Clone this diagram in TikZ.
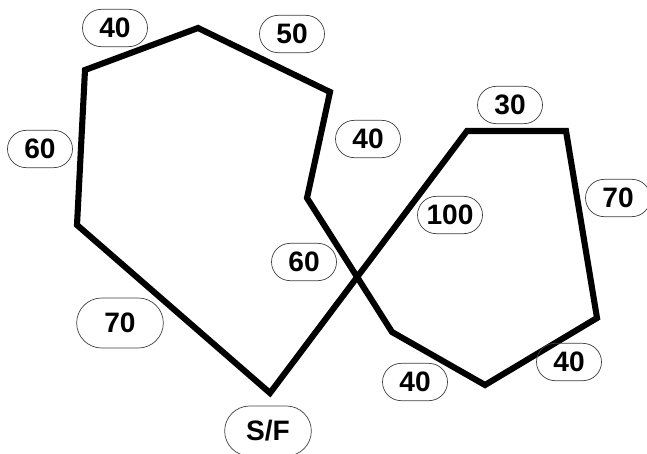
\documentclass[tikz,border=0pt]{standalone}
\usepackage{fontspec}
\setmainfont{Liberation Sans}
\usetikzlibrary{shapes.misc}

\begin{document}
\begin{tikzpicture}[x=0.03cm, y=-0.03cm,
    track/.style={line width=5.2pt, line join=miter},
    dist/.style={draw=black!75, line width=0.6pt, rounded rectangle, inner sep=0pt,
      minimum width=1.95cm, minimum height=1.12cm, font=\fontsize{24}{26}\selectfont\bfseries},
    bigdist/.style={dist, minimum width=2.6cm, minimum height=1.5cm}]
    \useasboundingbox (0,0) rectangle (647,454);
    % corners of the route
    \coordinate (sf) at (270,393);
    \coordinate (p1) at (77,225);
    \coordinate (p2) at (85,70);
    \coordinate (p3) at (198,28);
    \coordinate (p4) at (330,92);
    \coordinate (p5) at (307,198);
    \coordinate (p6) at (392,332);
    \coordinate (p7) at (485,385);
    \coordinate (p8) at (597,318);
    \coordinate (p9) at (566,131);
    \coordinate (p10) at (467,131);
    \draw[track] (sf) -- (p1) -- (p2) -- (p3) -- (p4) -- (p5) -- (p6) -- (p7)
      -- (p8) -- (p9) -- (p10) -- cycle;
    % distances
    \node[dist] (d1) at (115,28) {40};
    \node[dist] (d2) at (292,34) {50};
    \node[dist] (d3) at (40,149) {60};
    \node[dist] (d4) at (368,139) {40};
    \node[dist] (d5) at (510,105) {30};
    \node[dist] (d6) at (618,198) {70};
    \node[dist] (d7) at (450,215) {100};
    \node[dist] (d8) at (304,262) {60};
    \node[bigdist] (d9) at (120,323) {70};
    \node[dist] (d10) at (415,382) {40};
    \node[dist] (d11) at (569,362) {40};
    \node[bigdist] (start) at (268,431) {S/F};
\end{tikzpicture}
\end{document}
